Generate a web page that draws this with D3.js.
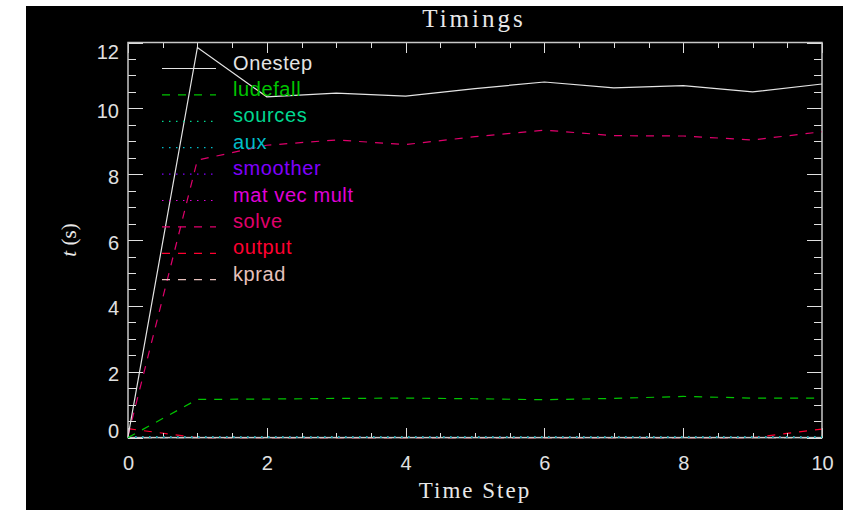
<!DOCTYPE html>
<html>
<head>
<meta charset="utf-8">
<script src="https://cdn.jsdelivr.net/npm/d3@7"></script>
<style>
  body { margin: 0; background: #fff; }
  svg { display: block; }
  .tick text { font-family: "Liberation Sans", Arial, sans-serif; }
</style>
</head>
<body>
<script>
// time steps along x
var steps = [0, 1, 2, 3, 4, 5, 6, 7, 8, 9, 10];

// timings per step (seconds)
var onestep  = [0.03, 11.85, 10.35, 10.46, 10.37, 10.6, 10.8, 10.62, 10.69, 10.5, 10.74];
var ludefall = [0.0, 1.16, 1.17, 1.19, 1.2, 1.18, 1.15, 1.19, 1.25, 1.2, 1.2];
var sources  = [0.02, 0.02, 0.02, 0.02, 0.02, 0.02, 0.02, 0.02, 0.02, 0.02, 0.02];
var aux      = [0.01, 0.01, 0.01, 0.01, 0.01, 0.01, 0.01, 0.01, 0.01, 0.01, 0.01];
var smoother = [0.01, 0.01, 0.01, 0.01, 0.01, 0.01, 0.01, 0.01, 0.01, 0.01, 0.01];
var matvec   = [0.02, 0.02, 0.02, 0.02, 0.02, 0.02, 0.02, 0.02, 0.02, 0.02, 0.02];
var solve    = [0.05, 8.43, 8.88, 9.04, 8.9, 9.14, 9.34, 9.17, 9.16, 9.04, 9.29];
var output   = [0.27, 0.0, 0.0, 0.0, 0.0, 0.0, 0.0, 0.0, 0.0, 0.0, 0.26];
var kprad    = [0, 0, 0, 0, 0, 0, 0, 0, 0, 0, 0];

var names  = ["Onestep", "ludefall", "sources", "aux", "smoother", "mat vec mult", "solve", "output", "kprad"];
var values = [onestep, ludefall, sources, aux, smoother, matvec, solve, output, kprad];

var xTicks = [0, 2, 4, 6, 8, 10];
var yTicks = [0, 2, 4, 6, 8, 10, 12];

var colors = ["#e4e4e4", "#00c400", "#00d890", "#00bcc8", "#8000ff", "#e000d8", "#e0006c", "#ff0030", "#e6c0bc"];
var dashes = [null, "8,8", "1.5,5.5", "1.5,5.5", "1.5,5.5", "1.5,5.5", "8,8", "8,8", "8,8"];

var width = 843, height = 510;

var svg = d3.select("body")
    .append("svg")
    .attr("width", width)
    .attr("height", height);

// black plotting window (white strip at top and left)
svg.append("rect")
    .attr("x", 26).attr("y", 6)
    .attr("width", width - 26).attr("height", height - 6)
    .attr("fill", "#000");

var x = d3.scaleLinear().domain([0, 10]).range([128, 822]);
var y = d3.scaleLinear().domain([0, 12]).range([437.6, 42.5]);

var axisColor = "#e0e0e0";
var minorX = d3.range(0, 10.01, 0.5).filter(function(d) { return d % 2 != 0; });
var minorY = d3.range(0, 12.01, 0.5).filter(function(d) { return d % 2 != 0; });

var line = d3.line()
    .x(function(d, i) { return x(steps[i]); })
    .y(function(d) { return y(d); });

function drawSeries(k) {
    svg.append("path")
        .datum(values[k])
        .attr("fill", "none")
        .attr("stroke", colors[k])
        .attr("stroke-width", 1.2)
        .attr("stroke-dasharray", dashes[k])
        .attr("d", line);
}

// the dashed zero-ish ones end up under the frame line
drawSeries(8);
drawSeries(7);

function styleAxis(g) {
    g.select(".domain").remove();
    g.selectAll("line").attr("stroke", axisColor).attr("shape-rendering", "crispEdges");
    g.selectAll("text").attr("fill", axisColor).attr("font-size", 20);
}

// bottom axis, ticks pointing up
var gb = svg.append("g").attr("transform", "translate(0," + y(0) + ")")
    .call(d3.axisBottom(x).tickValues(xTicks).tickSize(-10).tickPadding(19).tickFormat(d3.format("d")));
styleAxis(gb);
gb.selectAll("text").attr("dy", "0.71em").attr("y", 18);
var gbm = svg.append("g").attr("transform", "translate(0," + y(0) + ")")
    .call(d3.axisBottom(x).tickValues(minorX).tickSize(-5).tickFormat(""));
styleAxis(gbm);

// top axis, no labels
var gt = svg.append("g").attr("transform", "translate(0," + y(12) + ")")
    .call(d3.axisTop(x).tickValues(xTicks).tickSize(-10).tickFormat(""));
styleAxis(gt);
var gtm = svg.append("g").attr("transform", "translate(0," + y(12) + ")")
    .call(d3.axisTop(x).tickValues(minorX).tickSize(-5).tickFormat(""));
styleAxis(gtm);

// left axis, ticks pointing right
var gl = svg.append("g").attr("transform", "translate(" + x(0) + ",0)")
    .call(d3.axisLeft(y).tickValues(yTicks).tickSize(-15).tickPadding(9).tickFormat(d3.format("d")));
styleAxis(gl);
gl.selectAll("text").attr("dy", function(d) {
    if (d == 0) return "0.0em";      // end labels pulled inside the frame
    if (d == 12) return "0.78em";
    return "0.45em";
});
var glm = svg.append("g").attr("transform", "translate(" + x(0) + ",0)")
    .call(d3.axisLeft(y).tickValues(minorY).tickSize(-8).tickFormat(""));
styleAxis(glm);

// right axis
var gr = svg.append("g").attr("transform", "translate(" + x(10) + ",0)")
    .call(d3.axisRight(y).tickValues(yTicks).tickSize(-15).tickFormat(""));
styleAxis(gr);
var grm = svg.append("g").attr("transform", "translate(" + x(10) + ",0)")
    .call(d3.axisRight(y).tickValues(minorY).tickSize(-8).tickFormat(""));
styleAxis(grm);

// frame
svg.append("rect")
    .attr("x", x(0)).attr("y", y(12))
    .attr("width", x(10) - x(0)).attr("height", y(0) - y(12))
    .attr("fill", "none")
    .attr("stroke", "#c8c8c8")
    .attr("stroke-width", 1.5);

// remaining series, dotted ones show as dots on the bottom axis
[5, 4, 3, 2, 1, 6, 0].forEach(drawSeries);

// legend
var leg = svg.append("g").attr("class", "legend");
names.forEach(function(n, i) {
    var ly = 68.5 + i * 26.4;
    leg.append("line")
        .attr("x1", 162).attr("x2", 216)
        .attr("y1", ly).attr("y2", ly)
        .attr("stroke", colors[i])
        .attr("stroke-width", 1.2)
        .attr("stroke-dasharray", dashes[i]);
    leg.append("text")
        .attr("x", 233).attr("y", ly + 1)
        .attr("fill", colors[i])
        .attr("font-family", "Liberation Sans, Arial, sans-serif")
        .attr("font-size", 20)
        .attr("letter-spacing", 0.6)
        .text(n);
});

// title and axis titles
svg.append("text")
    .attr("x", 474).attr("y", 27)
    .attr("text-anchor", "middle")
    .attr("fill", "#e8e8e8")
    .attr("font-family", "Liberation Serif, DejaVu Serif, serif")
    .attr("font-size", 25)
    .attr("letter-spacing", 3)
    .text("Timings");

svg.append("text")
    .attr("x", 475).attr("y", 498)
    .attr("text-anchor", "middle")
    .attr("fill", "#e8e8e8")
    .attr("font-family", "Liberation Serif, DejaVu Serif, serif")
    .attr("font-size", 23)
    .attr("letter-spacing", 2)
    .text("Time Step");

var yl = svg.append("text")
    .attr("transform", "translate(76,240) rotate(-90)")
    .attr("text-anchor", "middle")
    .attr("fill", "#e8e8e8")
    .attr("font-family", "Liberation Serif, DejaVu Serif, serif")
    .attr("font-size", 21);
yl.append("tspan").attr("font-style", "italic").text("t");
yl.append("tspan").text(" (s)");
</script>
</body>
</html>
